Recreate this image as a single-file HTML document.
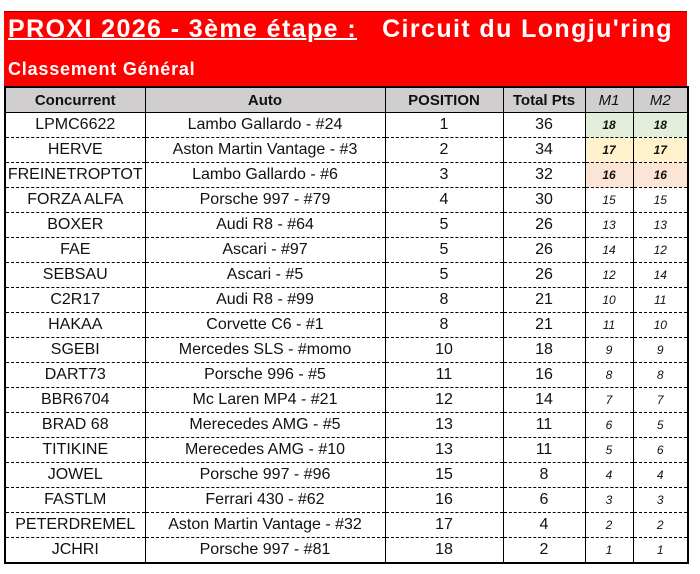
<!DOCTYPE html>
<html><head><meta charset="utf-8"><style>
body{margin:0;width:700px;height:574px;background:#fff;position:relative;overflow:hidden;font-family:"Liberation Sans",sans-serif}
#red{position:absolute;left:4px;top:11px;width:683px;height:76px;background:#f00;border-top:1px solid #900;box-sizing:border-box}
#t1{position:absolute;left:8px;top:15px;color:#fff;font-weight:bold;font-size:25px;letter-spacing:1.4px;white-space:pre}
#t1 u{text-decoration-thickness:2px}
#t2{position:absolute;left:8px;top:59px;color:#fff;font-weight:bold;font-size:18px;letter-spacing:0.8px}
table{position:absolute;left:4px;top:86px;border-collapse:collapse;border:2px solid #000;table-layout:fixed}
td{height:24px;padding:0;text-align:center;font-size:16px;border-left:1px solid #000;border-right:1px solid #000;border-bottom:1px dashed #000;color:#111;white-space:nowrap;overflow:hidden}
tr.h td{background:#d0cece;font-weight:bold;font-size:15px;border-bottom:1px solid #000}
tr.h td.m{font-weight:normal;font-style:italic;font-size:15px}
td.m{font-style:italic;font-size:12px}
.g{background:#e2efda;font-weight:bold}.y{background:#fff2cc;font-weight:bold}.p{background:#fce4d6;font-weight:bold}
tr:last-child td{border-bottom:none}
</style></head><body>
<div id="red"></div>
<div id="t1"><u>PROXI 2026 - 3ème étape :</u>   Circuit du Longju'ring</div>
<div id="t2">Classement Général</div>
<table>
<colgroup><col style="width:140px"><col style="width:240px"><col style="width:118px"><col style="width:82px"><col style="width:48px"><col style="width:55px"></colgroup>
<tr class="h"><td>Concurrent</td><td>Auto</td><td>POSITION</td><td>Total Pts</td><td class="m">M1</td><td class="m">M2</td></tr>
<tr><td>LPMC6622</td><td>Lambo Gallardo - #24</td><td>1</td><td>36</td><td class="m g">18</td><td class="m g">18</td></tr>
<tr><td>HERVE</td><td>Aston Martin Vantage - #3</td><td>2</td><td>34</td><td class="m y">17</td><td class="m y">17</td></tr>
<tr><td>FREINETROPTOT</td><td>Lambo Gallardo - #6</td><td>3</td><td>32</td><td class="m p">16</td><td class="m p">16</td></tr>
<tr><td>FORZA ALFA</td><td>Porsche 997 - #79</td><td>4</td><td>30</td><td class="m">15</td><td class="m">15</td></tr>
<tr><td>BOXER</td><td>Audi R8 - #64</td><td>5</td><td>26</td><td class="m">13</td><td class="m">13</td></tr>
<tr><td>FAE</td><td>Ascari - #97</td><td>5</td><td>26</td><td class="m">14</td><td class="m">12</td></tr>
<tr><td>SEBSAU</td><td>Ascari - #5</td><td>5</td><td>26</td><td class="m">12</td><td class="m">14</td></tr>
<tr><td>C2R17</td><td>Audi R8 - #99</td><td>8</td><td>21</td><td class="m">10</td><td class="m">11</td></tr>
<tr><td>HAKAA</td><td>Corvette C6 - #1</td><td>8</td><td>21</td><td class="m">11</td><td class="m">10</td></tr>
<tr><td>SGEBI</td><td>Mercedes SLS - #momo</td><td>10</td><td>18</td><td class="m">9</td><td class="m">9</td></tr>
<tr><td>DART73</td><td>Porsche 996 - #5</td><td>11</td><td>16</td><td class="m">8</td><td class="m">8</td></tr>
<tr><td>BBR6704</td><td>Mc Laren MP4 - #21</td><td>12</td><td>14</td><td class="m">7</td><td class="m">7</td></tr>
<tr><td>BRAD 68</td><td>Merecedes AMG - #5</td><td>13</td><td>11</td><td class="m">6</td><td class="m">5</td></tr>
<tr><td>TITIKINE</td><td>Merecedes AMG - #10</td><td>13</td><td>11</td><td class="m">5</td><td class="m">6</td></tr>
<tr><td>JOWEL</td><td>Porsche 997 - #96</td><td>15</td><td>8</td><td class="m">4</td><td class="m">4</td></tr>
<tr><td>FASTLM</td><td>Ferrari 430 - #62</td><td>16</td><td>6</td><td class="m">3</td><td class="m">3</td></tr>
<tr><td>PETERDREMEL</td><td>Aston Martin Vantage - #32</td><td>17</td><td>4</td><td class="m">2</td><td class="m">2</td></tr>
<tr><td>JCHRI</td><td>Porsche 997 - #81</td><td>18</td><td>2</td><td class="m">1</td><td class="m">1</td></tr>
</table>
</body></html>
